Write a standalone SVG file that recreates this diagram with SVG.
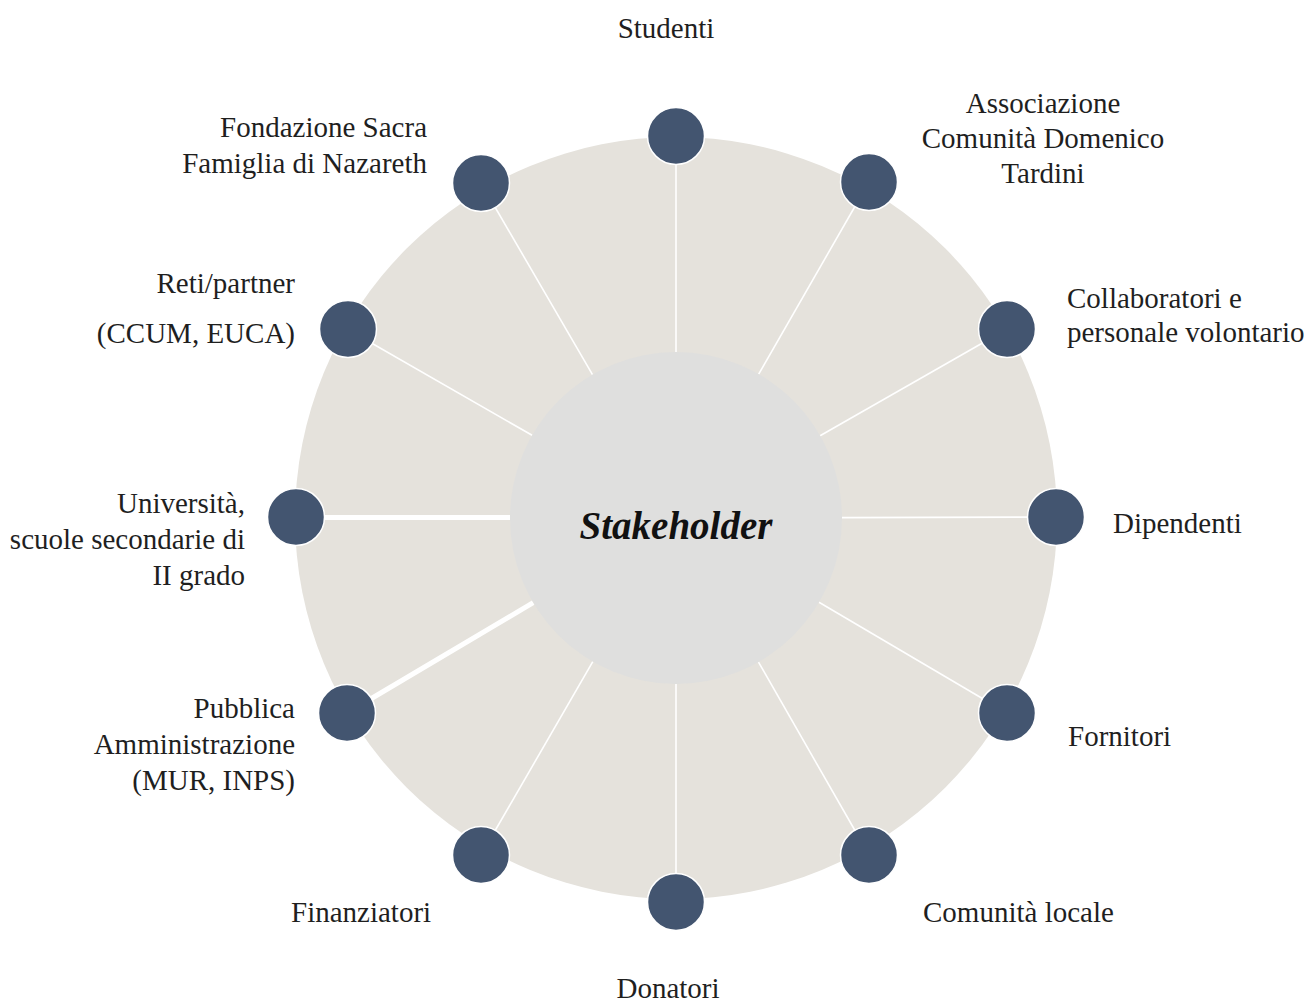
<svg xmlns="http://www.w3.org/2000/svg" width="1311" height="1003" viewBox="0 0 1311 1003">
<style>
.lbl{font-family:"Liberation Serif","Times New Roman",serif;font-size:29px;fill:#1f1f1f}
.r{text-anchor:end}
.m{text-anchor:middle}
.node{fill:#435570;stroke:#ffffff;stroke-width:1.5}
.conn{stroke:#ffffff;stroke-width:1.6;fill:none}
.thick{stroke-width:5}
</style>
<rect width="1311" height="1003" fill="#ffffff"/>
<circle id="ring" cx="676" cy="518" r="381" fill="#e5e2dc"/>
<g id="connectors">
<line class="conn" x1="676" y1="136" x2="676" y2="352"/>
<line class="conn" x1="869" y1="182" x2="758.7" y2="374.1"/>
<line class="conn" x1="1007" y1="329" x2="820.1" y2="435.7"/>
<line class="conn" x1="1056" y1="517" x2="842" y2="517.6"/>
<line class="conn" x1="1007" y1="713" x2="819" y2="602.3"/>
<line class="conn" x1="869" y1="855" x2="758.5" y2="662.1"/>
<line class="conn" x1="676" y1="902" x2="676" y2="684"/>
<line class="conn" x1="481" y1="855" x2="592.8" y2="661.7"/>
<line class="conn thick" x1="347" y1="713" x2="533.2" y2="602.7"/>
<line class="conn thick" x1="296" y1="517.5" x2="510" y2="517.5"/>
<line class="conn" x1="347" y1="329" x2="532.1" y2="435.3"/>
<line class="conn" x1="481" y1="183" x2="592.5" y2="374.6"/>
</g>
<g id="center">
<circle cx="676" cy="518" r="166" fill="#dfdfde"/>
<text x="676" y="539" class="m" style="font-family:'Liberation Serif','Times New Roman',serif;font-size:39px;font-weight:bold;font-style:italic;fill:#111">Stakeholder</text>
</g>
<g id="n-studenti"><circle class="node" cx="676" cy="136" r="28.5"/><text class="lbl m" x="666" y="38">Studenti</text></g>
<g id="n-associazione"><circle class="node" cx="869" cy="182" r="28.5"/><text class="lbl m" x="1043" y="113">Associazione</text><text class="lbl m" x="1043" y="148">Comunità Domenico</text><text class="lbl m" x="1043" y="183">Tardini</text></g>
<g id="n-collaboratori"><circle class="node" cx="1007" cy="329" r="28.5"/><text class="lbl" x="1067" y="308">Collaboratori e</text><text class="lbl" x="1067" y="342">personale volontario</text></g>
<g id="n-dipendenti"><circle class="node" cx="1056" cy="517" r="28.5"/><text class="lbl" x="1113" y="533">Dipendenti</text></g>
<g id="n-fornitori"><circle class="node" cx="1007" cy="713" r="28.5"/><text class="lbl" x="1068" y="746">Fornitori</text></g>
<g id="n-comunita"><circle class="node" cx="869" cy="855" r="28.5"/><text class="lbl" x="923" y="922">Comunità locale</text></g>
<g id="n-donatori"><circle class="node" cx="676" cy="902" r="28.5"/><text class="lbl m" x="668" y="998">Donatori</text></g>
<g id="n-finanziatori"><circle class="node" cx="481" cy="855" r="28.5"/><text class="lbl" x="291" y="922">Finanziatori</text></g>
<g id="n-pubblica"><circle class="node" cx="347" cy="713" r="28.5"/><text class="lbl r" x="295" y="718">Pubblica</text><text class="lbl r" x="295" y="754">Amministrazione</text><text class="lbl r" x="295" y="790">(MUR, INPS)</text></g>
<g id="n-universita"><circle class="node" cx="296" cy="517" r="28.5"/><text class="lbl r" x="245" y="513">Università,</text><text class="lbl r" x="245" y="549">scuole secondarie di</text><text class="lbl r" x="245" y="585">II grado</text></g>
<g id="n-reti"><circle class="node" cx="348" cy="329" r="28.5"/><text class="lbl r" x="295" y="293">Reti/partner</text><text class="lbl r" x="295" y="343">(CCUM, EUCA)</text></g>
<g id="n-fondazione"><circle class="node" cx="481" cy="183" r="28.5"/><text class="lbl r" x="427" y="137">Fondazione Sacra</text><text class="lbl r" x="427" y="173">Famiglia di Nazareth</text></g>
</svg>
